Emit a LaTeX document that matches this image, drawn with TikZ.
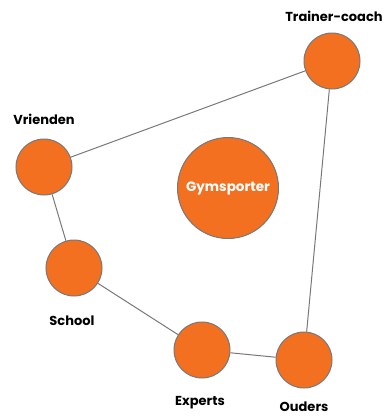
\documentclass[tikz,border=0pt]{standalone}
\usepackage{fontspec}
\setmainfont{Poppins}
\usepackage{tikz}
\definecolor{gorange}{RGB}{243,112,33}
\definecolor{ggray}{RGB}{120,120,120}

\begin{document}
\begin{tikzpicture}[x=1pt, y=-1pt,
    person/.style={circle, draw=ggray, line width=1pt, fill=gorange,
      minimum size=56pt, inner sep=0pt},
    tag/.style={font=\bfseries\fontsize{13}{15}\selectfont, text=black,
      anchor=base, inner sep=0pt}]
  \useasboundingbox (0,0) rectangle (387,418);
  % kring
  \node[person] (trainer) at (332,61) {};
  \node[person] (vrienden) at (44,167) {};
  \node[person] (school) at (74,268) {};
  \node[person] (experts) at (202,350) {};
  \node[person] (ouders) at (304,360) {};
  \node[person, minimum size=101pt, text=white,
    font=\bfseries\fontsize{13.5}{15}\selectfont] (gym) at (228,188) {Gymsporter};
  % namen
  \node[tag] (ltrainer) at (334,21) {Trainer-coach};
  \node[tag] (lvrienden) at (44,124) {Vrienden};
  \node[tag] (lschool) at (72,325) {School};
  \node[tag] (lexperts) at (200,405) {Experts};
  \node[tag] (louders) at (304,411) {Ouders};
  % lijnen
  \draw[ggray, line width=1pt] (vrienden) -- (trainer);
  \draw[ggray, line width=1pt] (vrienden) -- (school);
  \draw[ggray, line width=1pt] (school) -- (experts);
  \draw[ggray, line width=1pt] (experts) -- (ouders);
  \draw[ggray, line width=1pt] (ouders) -- (trainer);
\end{tikzpicture}
\end{document}
